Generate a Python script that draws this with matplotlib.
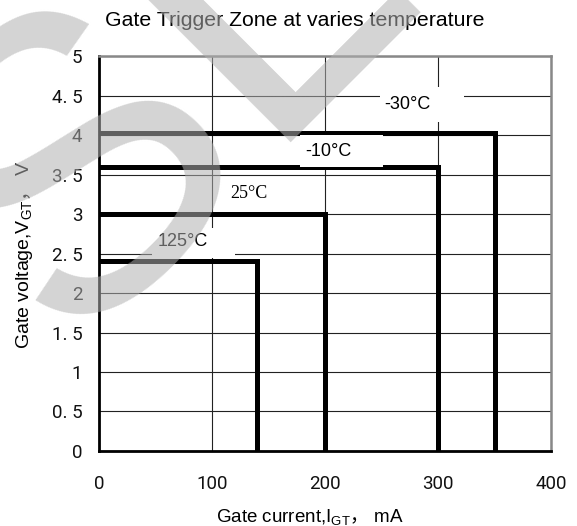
import matplotlib.pyplot as plt
from matplotlib.patches import Rectangle
from matplotlib.ticker import FixedLocator, FixedFormatter

plt.rcParams['font.family'] = ['Liberation Sans', 'Noto Sans CJK SC', 'DejaVu Sans']
plt.rcParams['mathtext.fontset'] = 'custom'
plt.rcParams['mathtext.rm'] = 'Liberation Sans'
plt.rcParams['mathtext.it'] = 'Liberation Sans'
plt.rcParams['mathtext.sf'] = 'Noto Sans CJK SC'

# Gate trigger zone corners for each temperature
temps = ["-30°C", "-10°C", "25°C", "125°C"]
igt_max = [350, 300, 200, 140]      # mA
vgt_max = [4.02, 3.6, 3.0, 2.4]     # V

# where each temperature tag sits (mA, V)
tag_x = [273, 203, 133, 74]
tag_y = [4.38, 3.79, 3.26, 2.65]
# white backing behind the tags: (x0, x1, y0, y1)
tag_bg = [(249, 323, 4.165, 4.61), (178, 251, 3.6, 4.005), None, (47, 120, 2.44, 2.82)]

x_ticks = [0, 100, 200, 300, 400]
y_ticks = [0, 0.5, 1, 1.5, 2, 2.5, 3, 3.5, 4, 4.5, 5]
y_tick_labels = ["0", "0. 5", "1", "1. 5", "2", "2. 5", "3", "3. 5", "4", "4. 5", "5"]

fig = plt.figure(figsize=(5.77, 5.26), dpi=100)
ax = fig.add_axes([0.1716, 0.1426, 0.7834, 0.7509])

ax.set_xlim(0, 400)
ax.set_ylim(0, 5)
ax.xaxis.set_major_locator(FixedLocator(x_ticks))
ax.yaxis.set_major_locator(FixedLocator(y_ticks))
ax.yaxis.set_major_formatter(FixedFormatter(y_tick_labels))
ax.grid(True, color='#222222', lw=0.8, zorder=1)
ax.set_axisbelow(True)
ax.tick_params(length=0, labelsize=13.5, labelfontfamily='Roboto', colors='#111111')
ax.tick_params(axis='x', pad=17)
ax.tick_params(axis='y', pad=12)

for side in ('left', 'bottom'):
    ax.spines[side].set_color('black')
    ax.spines[side].set_linewidth(2)
for side in ('top', 'right'):
    ax.spines[side].set_color('#888888')
    ax.spines[side].set_linewidth(1.8)

for ix, vy in zip(igt_max, vgt_max):
    ax.plot([0, ix, ix], [vy, vy, 0], color='black', lw=3.6,
            solid_joinstyle='miter', solid_capstyle='butt', zorder=2)

for bg in tag_bg:
    if bg is None:
        continue
    x0, x1, y0, y1 = bg
    ax.add_patch(Rectangle((x0, y0), x1 - x0, y1 - y0, fc='white', ec='none', zorder=2.5))

for i, t in enumerate(temps):
    fam = 'Liberation Serif' if t == "25°C" else 'Liberation Sans'
    ax.text(tag_x[i], tag_y[i], t, fontsize=13, family=fam,
            ha='center', va='center', zorder=3)

fig.text(295 / 577, 1 - 21 / 526, "Gate Trigger Zone at varies temperature",
         fontsize=15.3, ha='center', va='center')
fig.text(310 / 577, 1 - 517 / 526, "Gate current,I$_{\\mathrm{GT}}\\mathsf{，}$ mA",
         fontsize=13.5, ha='center', va='center')
fig.text(25 / 577, 1 - 255 / 526, "Gate voltage,V$_{\\mathrm{GT}}\\mathsf{，}$ V",
         fontsize=14, ha='center', va='center', rotation=90)

# faint stamp over the whole sheet
fig.text(65 / 577, 1 - 349 / 526, "SL", fontsize=300, color='#b0b0b0', alpha=0.55,
         family='Liberation Sans', rotation=45, rotation_mode='anchor',
         ha='left', va='baseline', zorder=10)

fig.savefig('out.png', dpi=100)
